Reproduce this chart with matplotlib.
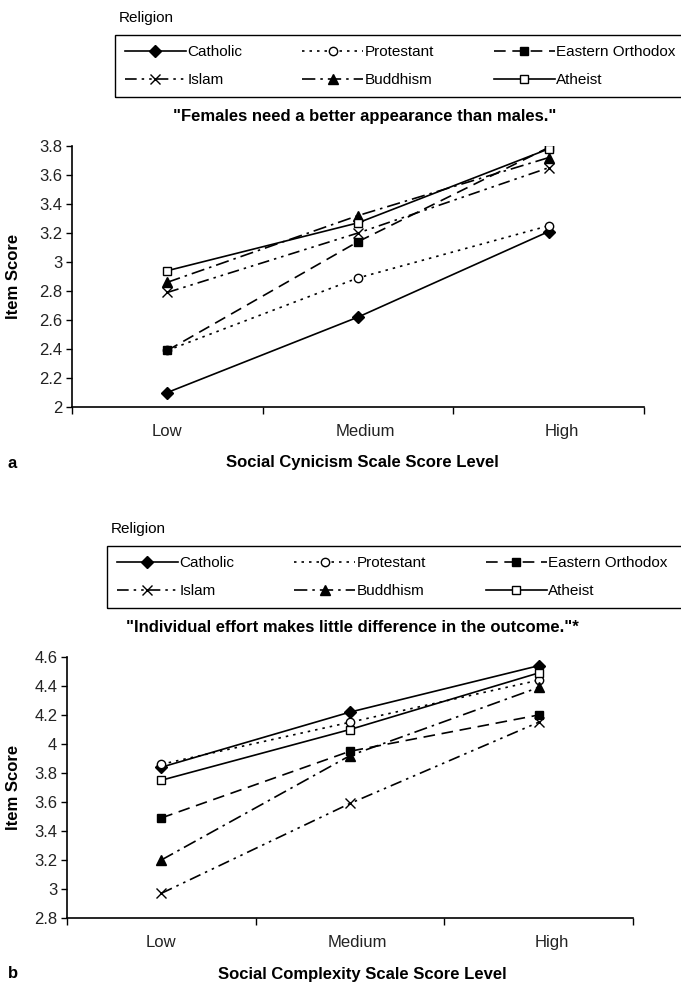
import matplotlib
matplotlib.use("Agg")
import matplotlib.pyplot as plt
from matplotlib.patches import Rectangle

plt.rcParams['font.family'] = ['Liberation Sans', 'DejaVu Sans']

levels = ["Low", "Medium", "High"]
religions = ["Catholic", "Protestant", "Eastern Orthodox", "Islam", "Buddhism", "Atheist"]

# Panel a: "Females need a better appearance than males."
a_catholic = [2.10, 2.62, 3.21]
a_protestant = [2.39, 2.89, 3.25]
a_orthodox = [2.39, 3.14, 3.79]
a_islam = [2.79, 3.20, 3.65]
a_buddhism = [2.86, 3.32, 3.72]
a_atheist = [2.94, 3.27, 3.78]

# Panel b: "Individual effort makes little difference in the outcome."*
b_catholic = [3.84, 4.22, 4.54]
b_protestant = [3.86, 4.15, 4.44]
b_orthodox = [3.49, 3.95, 4.20]
b_islam = [2.97, 3.59, 4.15]
b_buddhism = [3.20, 3.92, 4.39]
b_atheist = [3.75, 4.10, 4.49]

a_yticks = [2, 2.2, 2.4, 2.6, 2.8, 3, 3.2, 3.4, 3.6, 3.8]
b_yticks = [2.8, 3, 3.2, 3.4, 3.6, 3.8, 4, 4.2, 4.4, 4.6]

styles = {
    "Catholic": dict(linestyle='-', marker='D', markersize=6, mfc='black'),
    "Protestant": dict(linestyle=(0, (1.5, 3)), marker='o', markersize=6, mfc='white'),
    "Eastern Orthodox": dict(linestyle=(0, (7, 4)), marker='s', markersize=6, mfc='black'),
    "Islam": dict(linestyle=(0, (7, 3, 1.5, 3, 1.5, 3)), marker='x', markersize=7, mfc='black'),
    "Buddhism": dict(linestyle=(0, (8, 3, 1.5, 3)), marker='^', markersize=7, mfc='black'),
    "Atheist": dict(linestyle='-', marker='s', markersize=6, mfc='white'),
}

W, H = 681, 990
fig = plt.figure(figsize=(W / 100, H / 100), dpi=100)
FS = 12
LFS = 11


def fx(px):
    return px / W


def fy(py):
    return 1 - py / H


legends = []


def panel(left, right, top, bottom, series, yticks, title, title_x, dy, legend_left):
    rect = [fx(left), fy(bottom), fx(right) - fx(left), fy(top) - fy(bottom)]
    ax = fig.add_axes(rect)
    x = list(range(len(levels)))
    handles = {}
    for name, vals in zip(religions, series):
        st = styles[name]
        ln, = ax.plot(x, vals, color='black', linewidth=1.2, linestyle=st['linestyle'],
                      marker=st['marker'], markersize=st['markersize'],
                      markerfacecolor=st['mfc'], markeredgecolor='black', markeredgewidth=1.0)
        handles[name] = ln
    ax.set_xlim(-0.5, len(levels) - 0.5)
    ax.set_ylim(yticks[0], yticks[-1])
    ax.set_yticks(yticks)
    ax.set_yticklabels([f"{t:g}" for t in yticks], fontsize=FS, color='#222222')
    ax.set_xticks([i - 0.5 for i in range(len(levels) + 1)])
    ax.set_xticklabels([])
    ax.set_xticks([0, 1.04, 2.07], minor=True)
    ax.set_xticklabels(levels, minor=True, fontsize=FS, color='#222222')
    ax.tick_params(axis='x', which='minor', length=0, pad=12)
    ax.tick_params(axis='x', which='major', length=5, width=1.0, direction='out')
    ax.tick_params(axis='y', length=4, width=1.0, direction='out', pad=3)
    for s in ['top', 'right']:
        ax.spines[s].set_visible(False)
    for s in ['left', 'bottom']:
        ax.spines[s].set_linewidth(1.2)
    # y label centred at x = 14 px
    fig.text(fx(14), fy((top + bottom) / 2), "Item Score", rotation=90, ha='center', va='center',
             fontsize=FS, fontweight='bold')
    fig.text(fx(title_x), fy(117 + dy), title, ha='center', va='center', fontsize=FS, fontweight='bold')
    fig.text(fx(362), fy(463 + dy), xl[0], ha='center', va='center', fontsize=FS, fontweight='bold')
    fig.text(fx(8), fy(463 + dy), xl[1], ha='left', va='center', fontsize=FS, fontweight='bold')
    fig.text(fx(legend_left + 4), fy(18 + dy), "Religion", ha='left', va='center', fontsize=LFS)
    order = ["Catholic", "Islam", "Protestant", "Buddhism", "Eastern Orthodox", "Atheist"]
    leg = fig.legend([handles[n] for n in order], order, loc='upper left',
                     bbox_to_anchor=(fx(legend_left), fy(35 + dy)), ncol=3, numpoints=1,
                     frameon=False, fontsize=LFS,
                     handlelength=4.0, handletextpad=0.1, borderaxespad=0, borderpad=0.65,
                     labelspacing=0.93, columnspacing=3.9)
    legends.append(leg)
    return ax


xl = ("Social Cynicism Scale Score Level", "a")
panel(72, 644, 146, 407,
      [a_catholic, a_protestant, a_orthodox, a_islam, a_buddhism, a_atheist],
      a_yticks, '"Females need a better appearance than males."', 365, 0, 115)

xl = ("Social Complexity Scale Score Level", "b")
panel(67, 633, 657, 918,
      [b_catholic, b_protestant, b_orthodox, b_islam, b_buddhism, b_atheist],
      b_yticks, '"Individual effort makes little difference in the outcome."*', 352, 511, 107)

# legend frames: open past the right edge of the figure, as in the reference
fig.canvas.draw()
for leg in legends:
    bb = leg.get_window_extent()
    fig.patches.append(Rectangle((bb.x0 / W, bb.y0 / H), (W + 20 - bb.x0) / W, bb.height / H,
                                 transform=fig.transFigure, fill=False, edgecolor='black',
                                 linewidth=1.0, clip_on=False))

fig.savefig("out.png", dpi=100)
